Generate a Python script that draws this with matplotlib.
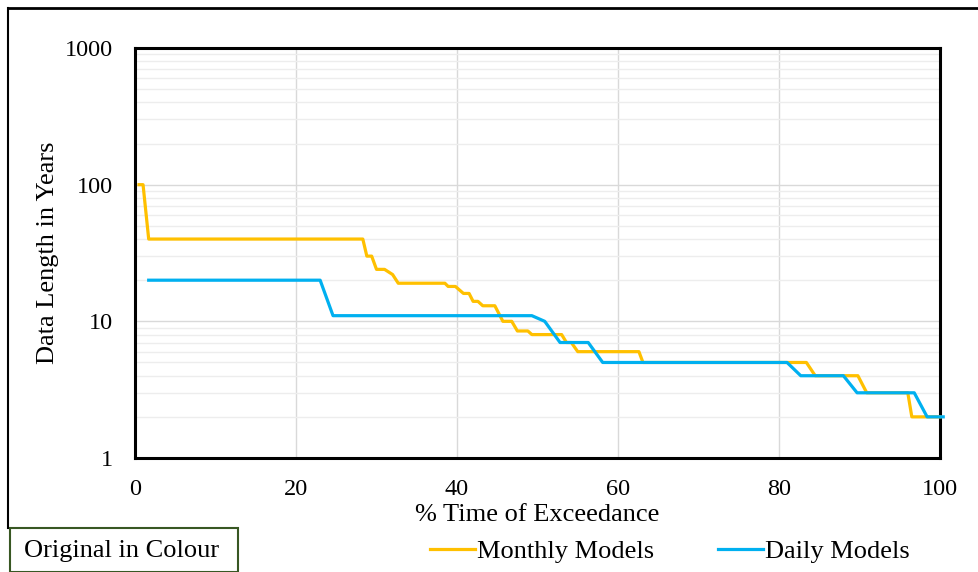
import matplotlib.pyplot as plt
from matplotlib.lines import Line2D
from matplotlib.patches import Rectangle

# exceedance curves (% time, data length in years)
monthly_pct = [0.5, 1.0, 1.7, 28.3, 28.8, 29.4, 30.0, 31.0, 32.0, 32.7, 38.5, 38.9,
               39.8, 40.8, 41.5, 42.0, 42.6, 43.2, 44.7, 45.7, 46.8, 47.5, 48.8, 49.3,
               53.0, 53.6, 54.2, 55.0, 62.6, 63.1, 83.4, 84.5, 89.8, 90.9, 96.0, 96.5,
               98.4, 100.0]
monthly_years = [100, 100, 40, 40, 30, 30, 24, 24, 22, 19, 19, 18,
                 18, 16, 16, 14, 14, 13, 13, 10, 10, 8.5, 8.5, 8,
                 8, 7, 7, 6, 6, 5, 5, 4, 4, 3, 3, 2,
                 2, 2]

daily_pct = [1.7, 23.0, 24.6, 49.3, 50.9, 52.8, 56.3, 58.1, 81.0, 82.7, 88.0, 89.7,
             96.8, 98.4, 100.4]
daily_years = [20, 20, 11, 11, 10, 7, 7, 5, 5, 4, 4, 3,
               3, 2, 2]

x_ticks = [0, 20, 40, 60, 80, 100]
y_ticks = [1, 10, 100, 1000]

plt.rcParams["font.family"] = ["Liberation Serif", "DejaVu Serif"]

fig = plt.figure(figsize=(9.79, 5.72), dpi=100)
W, H = 979, 572
ax = fig.add_axes([135 / W, 1 - 458 / H, (940 - 135) / W, (458 - 48) / H])

ax.plot(monthly_pct, monthly_years, color="#FFC000", lw=2.3, label="Monthly Models",
        clip_on=False, zorder=3)
ax.plot(daily_pct, daily_years, color="#00B0F0", lw=2.3, label="Daily Models",
        clip_on=False, zorder=4)

ax.set_yscale("log")
ax.set_xlim(0, 100)
ax.set_ylim(1, 1000)
ax.set_xticks(x_ticks)
ax.set_xticklabels([str(v) for v in x_ticks])
ax.set_yticks(y_ticks)
ax.set_yticklabels([str(v) for v in y_ticks])
ax.tick_params(axis="both", which="both", length=0, labelsize=17.5)
ax.tick_params(axis="y", pad=16)
ax.tick_params(axis="x", pad=15)
ax.grid(True, which="major", color="#D9D9D9", lw=1)
ax.grid(True, which="minor", axis="y", color="#EDEDED", lw=1)
ax.set_axisbelow(True)
for s in ax.spines.values():
    s.set_linewidth(2.2)
    s.set_color("black")

ax.set_xlabel("% Time of Exceedance", fontsize=19, labelpad=3)
ax.set_ylabel("Data Length in Years", fontsize=19, labelpad=4)

# outer frame (top and left edges visible)
fig.add_artist(Line2D([8 / W, 8 / W], [1 - 8 / H, 1 - 528 / H], color="black", lw=1.5))
fig.add_artist(Line2D([8 / W, 1.0], [1 - 8 / H, 1 - 8 / H], color="black", lw=2))

# "Original in Colour" box
fig.add_artist(Rectangle((10 / W, 0), 228 / W, (572 - 528) / H, transform=fig.transFigure,
                         facecolor="white", edgecolor="#385723", lw=1.5))
fig.text(122 / W, 1 - 551 / H, "Original in Colour", fontsize=19, ha="center", va="center")

fig.legend(loc="center", bbox_to_anchor=(670 / W, 1 - 551 / H), ncol=2, frameon=False,
           fontsize=19, handlelength=1.7, handletextpad=0.1, columnspacing=2.4)

fig.savefig("out.png", dpi=100)
